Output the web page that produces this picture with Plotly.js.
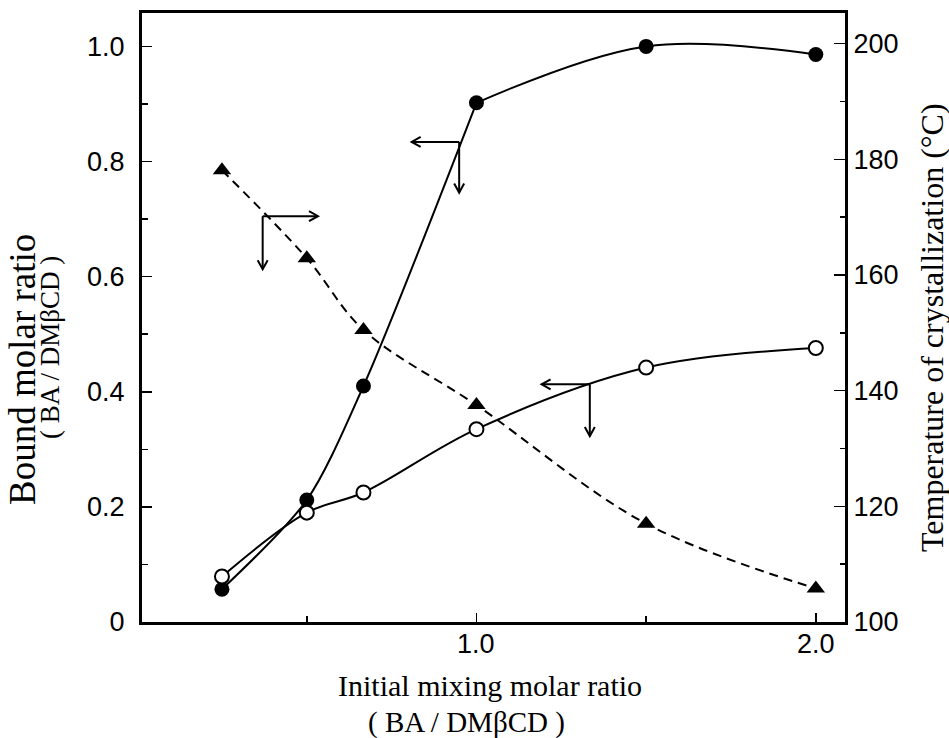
<!DOCTYPE html>
<html>
<head>
<meta charset="utf-8">
<script src="https://cdn.plot.ly/plotly-3.0.1.min.js"></script>
<style>
html,body{margin:0;padding:0;background:#fff;}
#chart{width:949px;height:738px;}
</style>
</head>
<body>
<div id="chart"></div>
<script>
// ---- data ----
const ratio = [0.25, 0.5, 0.667, 1.0, 1.5, 2.0];            // initial mixing molar ratio (BA / DMβCD)
const boundFilled = [0.057, 0.212, 0.41, 0.902, 1.0, 0.986]; // bound molar ratio, filled circles
const boundOpen = [0.079, 0.19, 0.225, 0.335, 0.442, 0.476]; // bound molar ratio, open circles
const tempCryst = [178.1, 162.9, 150.5, 137.5, 117.0, 105.8]; // temperature of crystallization (°C)

const leftTickVals = [0, 0.2, 0.4, 0.6, 0.8, 1.0];
const leftTickText = ['0', '0.2', '0.4', '0.6', '0.8', '1.0'];
const leftMinorVals = [0.1, 0.3, 0.5, 0.7, 0.9];
const rightTickVals = [100, 120, 140, 160, 180, 200];
const rightTickText = ['100', '120', '140', '160', '180', '200'];
const rightMinorVals = [110, 130, 150, 170, 190];
const xTickVals = [1.0, 2.0];
const xTickText = ['1.0', '2.0'];
const xMinorVals = [0.5, 1.5];

// ---- layout helpers ----
const W = 949, H = 738;
const M = {l: 142, r: 104, t: 13, b: 116};
const PW = W - M.l - M.r, PH = H - M.t - M.b;
const px = v => (v - M.l) / PW;
const py = v => (H - M.b - v) / PH;

const tickFont = {family: 'Liberation Sans, Arial, sans-serif', size: 27, color: '#000'};
const serif = 'Liberation Serif, Times New Roman, serif';

// the filled-circle curve has a kink at ratio 1.0, so it is drawn in two smooth pieces
const kink = ratio.indexOf(1.0);

const traces = [
  {
    x: ratio, y: tempCryst, yaxis: 'y2', mode: 'lines+markers',
    line: {color: '#000', width: 2, dash: '9px,6px', shape: 'spline', smoothing: 1},
    marker: {symbol: 'triangle-up', size: 16, color: '#000'},
    hoverinfo: 'skip'
  },
  {
    x: ratio.slice(0, kink + 1), y: boundFilled.slice(0, kink + 1), mode: 'lines',
    line: {color: '#000', width: 2, shape: 'spline', smoothing: 0.8},
    hoverinfo: 'skip'
  },
  {
    x: ratio.slice(kink), y: boundFilled.slice(kink), mode: 'lines',
    line: {color: '#000', width: 2, shape: 'spline', smoothing: 1},
    hoverinfo: 'skip'
  },
  {
    x: ratio, y: boundFilled, mode: 'markers',
    marker: {symbol: 'circle', size: 15, color: '#000'},
    hoverinfo: 'skip'
  },
  {
    x: ratio, y: boundOpen, mode: 'lines+markers',
    line: {color: '#000', width: 2, shape: 'spline', smoothing: 1},
    marker: {symbol: 'circle', size: 14, color: '#fff', line: {color: '#000', width: 2}},
    hoverinfo: 'skip'
  }
];

// bracket arrows that tell which axis each curve belongs to
function bracket(cx, cy, hx, vy) {
  const shp = [];
  const ln = {color: '#000', width: 2};
  shp.push({type: 'line', xref: 'x', yref: 'y', x0: cx, y0: cy, x1: hx, y1: cy, line: ln});
  shp.push({type: 'line', xref: 'x', yref: 'y', x0: cx, y0: cy, x1: cx, y1: vy, line: ln});
  const dir = hx > cx ? -1 : 1;
  shp.push({type: 'path', xref: 'x', yref: 'y', xsizemode: 'pixel', ysizemode: 'pixel',
    xanchor: hx, yanchor: cy, path: `M${dir*9},5 L0,0 L${dir*9},-5`, line: ln});
  shp.push({type: 'path', xref: 'x', yref: 'y', xsizemode: 'pixel', ysizemode: 'pixel',
    xanchor: cx, yanchor: vy, path: 'M-5,9 L0,0 L5,9', line: ln});
  return shp;
}
const shapes = [].concat(
  bracket(0.370, 0.705, 0.533, 0.613),
  bracket(0.949, 0.834, 0.809, 0.746),
  bracket(1.334, 0.413, 1.192, 0.323)
);

const annotations = [
  {text: 'Bound molar ratio', xref: 'paper', yref: 'paper', x: px(23), y: py(369), textangle: -90,
   showarrow: false, xanchor: 'center', yanchor: 'middle', borderpad: 0,
   font: {family: serif, size: 37, color: '#000'}},
  {text: '( BA / DMβCD )', xref: 'paper', yref: 'paper', x: px(50), y: py(348), textangle: -90,
   showarrow: false, xanchor: 'center', yanchor: 'middle', borderpad: 0,
   font: {family: serif, size: 27, color: '#000'}},
  {text: 'Temperature of crystallization (°C)', xref: 'paper', yref: 'paper', x: px(932), y: py(327), textangle: -90,
   showarrow: false, xanchor: 'center', yanchor: 'middle', borderpad: 0,
   font: {family: serif, size: 32, color: '#000'}},
  {text: 'Initial mixing molar ratio', xref: 'paper', yref: 'paper', x: px(490), y: py(685),
   showarrow: false, xanchor: 'center', yanchor: 'middle', font: {family: serif, size: 30, color: '#000'}},
  {text: '( BA / DMβCD )', xref: 'paper', yref: 'paper', x: px(466), y: py(722),
   showarrow: false, xanchor: 'center', yanchor: 'middle', font: {family: serif, size: 29, color: '#000'}}
];
// x tick labels, placed on the x scale just below the axis
xTickVals.forEach((v, i) => annotations.push({
  text: xTickText[i], xref: 'x', yref: 'paper', x: v, y: py(644),
  showarrow: false, xanchor: 'center', yanchor: 'middle', borderpad: 0, font: tickFont
}));

const layout = {
  width: W, height: H,
  margin: M,
  paper_bgcolor: '#fff', plot_bgcolor: '#fff',
  showlegend: false,
  xaxis: {
    range: [0.0144, 2.086], showgrid: false, zeroline: false,
    showline: true, linecolor: '#000', linewidth: 3, mirror: true,
    ticks: 'inside', ticklen: 9, tickwidth: 1.5, tickcolor: '#000',
    tickmode: 'array', tickvals: xTickVals, ticktext: xTickText, showticklabels: false,
    minor: {tickmode: 'array', tickvals: xMinorVals, ticks: 'inside', ticklen: 6, tickwidth: 1.5, tickcolor: '#000', showgrid: false}
  },
  yaxis: {
    range: [0, 1.058], showgrid: false, zeroline: false,
    showline: true, linecolor: '#000', linewidth: 3,
    ticks: 'inside', ticklen: 10, tickwidth: 1.5, tickcolor: '#000',
    tickmode: 'array', tickvals: leftTickVals, ticktext: leftTickText,
    minor: {tickmode: 'array', tickvals: leftMinorVals, ticks: 'inside', ticklen: 6, tickwidth: 1.5, tickcolor: '#000', showgrid: false},
    tickfont: tickFont, ticklabelstandoff: 9
  },
  yaxis2: {
    overlaying: 'y', side: 'right',
    range: [100, 205.3], showgrid: false, zeroline: false,
    showline: true, linecolor: '#000', linewidth: 3,
    ticks: 'inside', ticklen: 11, tickwidth: 1.5, tickcolor: '#000',
    tickmode: 'array', tickvals: rightTickVals, ticktext: rightTickText,
    minor: {tickmode: 'array', tickvals: rightMinorVals, ticks: 'inside', ticklen: 5, tickwidth: 1.5, tickcolor: '#000', showgrid: false},
    tickfont: tickFont, ticklabelstandoff: 0
  },
  shapes: shapes,
  annotations: annotations
};

Plotly.newPlot('chart', traces, layout, {displayModeBar: false, staticPlot: true});
</script>
</body>
</html>
